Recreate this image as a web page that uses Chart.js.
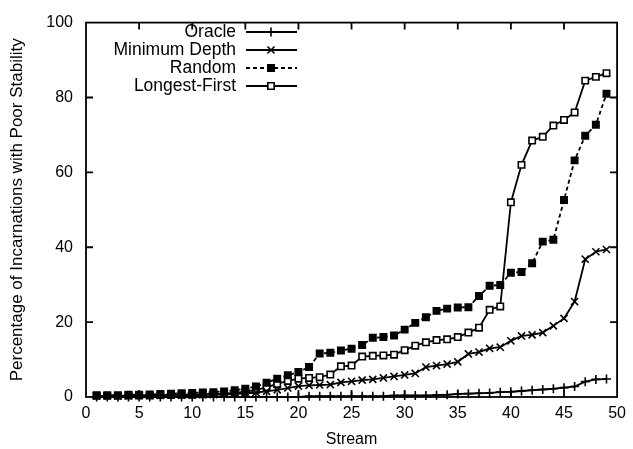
<!DOCTYPE html>
<html>
<head>
<meta charset="utf-8">
<script src="https://cdn.jsdelivr.net/npm/chart.js@4.4.1/dist/chart.umd.min.js"></script>
<style>
  html, body { margin: 0; padding: 0; background: #fff; }
  #wrap { width: 633px; height: 449px; }
</style>
</head>
<body>
<div id="wrap"><canvas id="grafico"></canvas></div>
<script>
// ===== Datos =====
const streams = [
    1, 2, 3, 4, 5, 6, 7, 8, 9, 10,
    11, 12, 13, 14, 15, 16, 17, 18, 19, 20,
    21, 22, 23, 24, 25, 26, 27, 28, 29, 30,
    31, 32, 33, 34, 35, 36, 37, 38, 39, 40,
    41, 42, 43, 44, 45, 46, 47, 48, 49
];

const oracle = [
    0, 0, 0, 0, 0, 0, 0, 0, 0, 0,
    0, 0, 0, 0, 0, 0, 0, 0, 0, 0,
    0.2, 0.2, 0.2, 0.2, 0.2, 0.2, 0.2, 0.2, 0.4, 0.4,
    0.4, 0.4, 0.5, 0.6, 0.8, 0.9, 1.0, 1.1, 1.3, 1.4,
    1.6, 1.8, 2.0, 2.2, 2.5, 2.8, 4.1, 4.7, 4.8
];

const minimumDepth = [
    0.3, 0.3, 0.3, 0.3, 0.4, 0.4, 0.4, 0.5, 0.5, 0.5,
    0.6, 0.6, 0.7, 0.8, 1.0, 1.2, 1.5, 1.9, 2.4, 2.9,
    3.1, 3.2, 3.3, 3.9, 4.2, 4.5, 4.7, 5.1, 5.5, 5.9,
    6.3, 8.0, 8.4, 8.8, 9.4, 11.5, 12.0, 13.0, 13.3, 15.0,
    16.3, 16.6, 17.2, 19.0, 21.0, 25.5, 36.8, 38.8, 39.4
];

const random = [
    0.5, 0.5, 0.5, 0.6, 0.6, 0.7, 0.8, 0.9, 1.0, 1.1,
    1.2, 1.3, 1.5, 1.8, 2.2, 2.8, 3.8, 4.9, 5.8, 6.7,
    8.0, 11.6, 11.8, 12.4, 12.9, 13.9, 15.8, 16.0, 16.4, 18.0,
    19.8, 21.3, 23.0, 23.6, 23.9, 24.0, 27.0, 29.7, 29.9, 33.2,
    33.4, 35.7, 41.5, 42.0, 52.6, 63.2, 69.8, 72.7, 81.0
];

const longestFirst = [
    0.3, 0.3, 0.3, 0.4, 0.4, 0.4, 0.5, 0.5, 0.6, 0.6,
    0.7, 0.8, 0.9, 1.1, 1.4, 1.9, 2.6, 3.5, 4.3, 4.9,
    5.1, 5.3, 6.0, 8.2, 8.4, 10.8, 11.0, 11.1, 11.3, 12.5,
    13.7, 14.6, 15.2, 15.4, 16.0, 17.2, 18.5, 23.3, 24.2, 52.0,
    62.0, 68.5, 69.5, 72.5, 74.0, 76.0, 84.5, 85.5, 86.5
];

const FUENTE = '"Liberation Sans", Arial, sans-serif';

function puntos(valores) {
    return streams.map((s, i) => ({ x: s, y: valores[i] }));
}

function serie(label, valores, estilo) {
    return Object.assign({
        label,
        data: puntos(valores),
        borderColor: '#000',
        borderWidth: 1.8,
        tension: 0,
        fill: false,
        clip: false,
        pointBorderColor: '#000',
        pointBackgroundColor: '#000',
        pointBorderWidth: 1.6,
        pointRadius: 4.5
    }, estilo);
}

// Marco, marcas hacia dentro y leyenda estilo gnuplot
const marcoYLeyenda = {
    id: 'marcoYLeyenda',
    afterDraw(chart) {
        const { ctx, chartArea: a, scales: { x, y } } = chart;
        ctx.save();
        ctx.strokeStyle = '#000';
        ctx.lineWidth = 1.8;
        ctx.setLineDash([]);
        ctx.strokeRect(a.left, a.top, a.right - a.left, a.bottom - a.top);

        ctx.beginPath();
        x.ticks.forEach(t => {
            if (t.value <= x.min || t.value >= x.max) return;
            const px = x.getPixelForValue(t.value);
            ctx.moveTo(px, a.bottom); ctx.lineTo(px, a.bottom - 7);
            ctx.moveTo(px, a.top); ctx.lineTo(px, a.top + 7);
        });
        y.ticks.forEach(t => {
            if (t.value <= y.min || t.value >= y.max) return;
            const py = y.getPixelForValue(t.value);
            ctx.moveTo(a.left, py); ctx.lineTo(a.left + 7, py);
            ctx.moveTo(a.right, py); ctx.lineTo(a.right - 7, py);
        });
        ctx.stroke();

        ctx.font = '17.5px ' + FUENTE;
        ctx.textAlign = 'right';
        ctx.textBaseline = 'middle';
        chart.data.datasets.forEach((ds, i) => {
            const yy = 32 + i * 18;
            ctx.fillStyle = '#000';
            ctx.fillText(ds.label, 236, yy);

            ctx.setLineDash(ds.borderDash || []);
            ctx.lineWidth = ds.borderWidth;
            ctx.beginPath();
            ctx.moveTo(246, yy);
            ctx.lineTo(297, yy);
            ctx.stroke();

            ctx.setLineDash([]);
            ctx.lineWidth = ds.pointBorderWidth;
            ctx.fillStyle = ds.pointBackgroundColor;
            Chart.helpers.drawPoint(ctx, {
                pointStyle: ds.pointStyle,
                radius: ds.pointRadius,
                borderWidth: ds.pointBorderWidth,
                rotation: 0
            }, 271, yy);
        });
        ctx.restore();
    }
};

new Chart(document.getElementById('grafico'), {
    type: 'line',
    data: {
        datasets: [
            serie('Oracle', oracle, { pointStyle: 'cross', pointRadius: 4.5 }),
            serie('Minimum Depth', minimumDepth, { pointStyle: 'crossRot', pointRadius: 5 }),
            serie('Random', random, { pointStyle: 'rect', pointRadius: 4.5, borderDash: [4, 3] }),
            serie('Longest-First', longestFirst, { pointStyle: 'rect', pointRadius: 4.5, pointBackgroundColor: '#fff' })
        ]
    },
    options: {
        responsive: true,
        maintainAspectRatio: false,
        animation: false,
        layout: { padding: { left: 0, top: 17, right: 14, bottom: 0 } },
        plugins: {
            legend: { display: false },
            tooltip: { enabled: false }
        },
        scales: {
            x: {
                type: 'linear',
                min: 0,
                max: 50,
                afterFit: s => { s.height = 52; },
                ticks: { stepSize: 5, color: '#000', padding: 7, maxRotation: 0, font: { family: FUENTE, size: 16 } },
                grid: { display: false, drawTicks: false },
                border: { display: false },
                title: { display: true, text: 'Stream', color: '#000', padding: { top: 0, bottom: 0 }, font: { family: FUENTE, size: 16 } }
            },
            y: {
                min: 0,
                max: 100,
                afterFit: s => { s.width = 86; },
                ticks: { stepSize: 20, color: '#000', padding: 13, font: { family: FUENTE, size: 16 } },
                grid: { display: false, drawTicks: false },
                border: { display: false },
                title: { display: true, text: 'Percentage of Incarnations with Poor Stability', color: '#000', padding: { top: 7, bottom: 0 }, font: { family: FUENTE, size: 17 } }
            }
        }
    },
    plugins: [marcoYLeyenda]
});
</script>
</body>
</html>
